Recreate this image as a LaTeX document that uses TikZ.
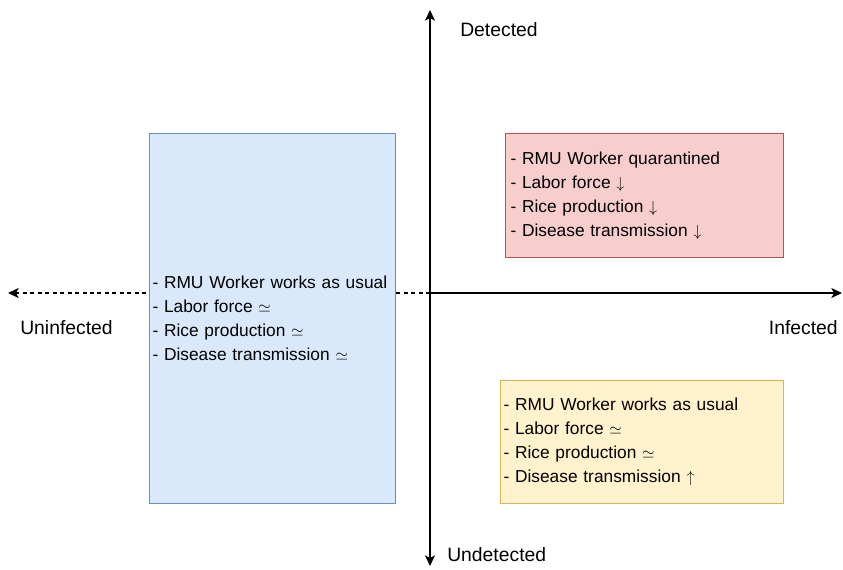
\documentclass[tikz,border=0pt]{standalone}
\usepackage{fontspec}
\setmainfont{Liberation Sans}
\usetikzlibrary{arrows.meta,positioning}

\definecolor{blueFill}{HTML}{DAE8FC}
\definecolor{blueLine}{HTML}{6C8EBF}
\definecolor{redFill}{HTML}{F8CECC}
\definecolor{redLine}{HTML}{B85450}
\definecolor{yellowFill}{HTML}{FFF2CC}
\definecolor{yellowLine}{HTML}{D6B656}

\tikzset{
  tip/.tip={Stealth[length=8pt, width=7.5pt, inset=2pt]},
  axis/.style={line width=1.1pt, -tip},
  dashaxis/.style={axis, dash pattern=on 3pt off 2.6pt},
  quadbox/.style={draw, line width=0.75pt, anchor=north west, align=left,
    inner ysep=0pt, font=\fontsize{13}{18}\selectfont},
  axislabel/.style={font=\fontsize{14.5}{17}\selectfont, inner sep=0pt},
}

\begin{document}
\begin{tikzpicture}[x=0.75pt, y=-0.75pt]
    \useasboundingbox (0,0) rectangle (843,569);

    % axes
    \coordinate (origin) at (430,293);
    \coordinate (right) at (842,293);
    \coordinate (left) at (8,293);
    \coordinate (top) at (430,10);
    \coordinate (bottom) at (430,566);

    \draw[dashaxis] (origin) -- (left);
    \draw[axis] (origin) -- (right);
    \draw[axis, tip-tip] (bottom) -- (top);

    % quadrant boxes
    \node[quadbox, fill=blueFill, draw=blueLine, inner xsep=2.25pt,
        text width=180pt, minimum height=277.5pt] (usual) at (149,133)
        {- RMU Worker works as usual\\ - Labor force $\simeq$\\
         - Rice production $\simeq$\\ - Disease transmission $\simeq$};
    \node[quadbox, fill=redFill, draw=redLine, inner xsep=3.75pt,
        text width=201pt, minimum height=93pt] (quarantine) at (505,133)
        {- RMU Worker quarantined\\ - Labor force $\downarrow$\\
         - Rice production $\downarrow$\\ - Disease transmission $\downarrow$};
    \node[quadbox, fill=yellowFill, draw=yellowLine, inner xsep=2.25pt,
        text width=207.75pt, minimum height=92.25pt] (hidden) at (500,380)
        {- RMU Worker works as usual\\ - Labor force $\simeq$\\
         - Rice production $\simeq$\\ - Disease transmission $\uparrow$};

    % axis labels
    \node[axislabel, anchor=west] (detected) at (460,30) {Detected};
    \node[axislabel, anchor=west] (undetected) at (447,555) {Undetected};
    \node[axislabel, anchor=west] (uninfected) at (20,328) {Uninfected};
    \node[axislabel, anchor=east] (infected) at (838,328) {Infected};
\end{tikzpicture}
\end{document}
